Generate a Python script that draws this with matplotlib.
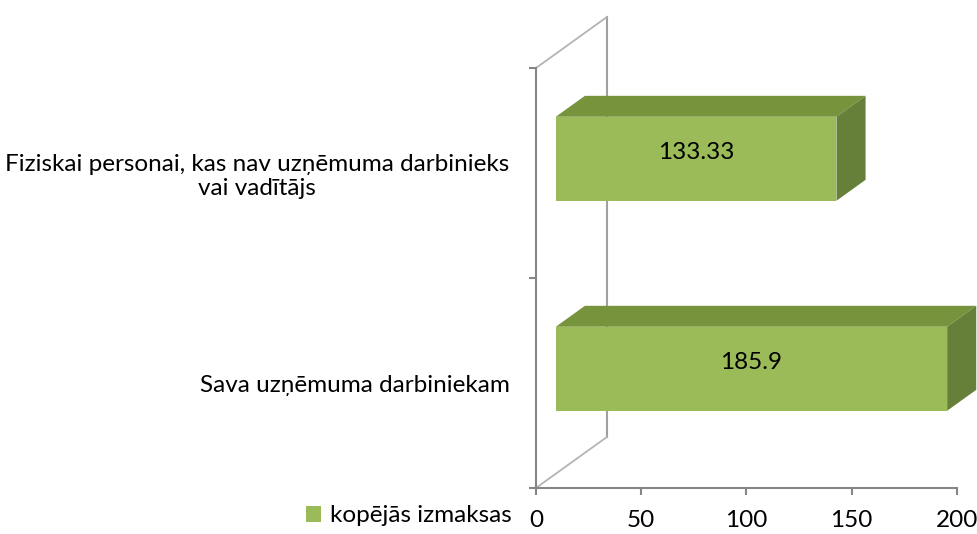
import numpy as np
import matplotlib.pyplot as plt
from matplotlib.patches import Polygon

# chart data
categories = ['Sava uzņēmuma darbiniekam',
              'Fiziskai personai, kas nav uzņēmuma darbinieks\nvai vadītājs']
values = [185.9, 133.33]
value_labels = ['185.9', '133.33']
series_name = 'kopējās izmaksas'
xticks = [0, 50, 100, 150, 200]

plt.rcParams['font.family'] = ['Lato', 'DejaVu Sans']

front_c = '#9bbb59'
top_c = '#77933c'
side_c = '#66803a'
axis_c = '#868686'
wall_c = '#b4b4b4'
fs = 17.5

# fake 3d depth (data units)
wall_dx, wall_dy = 33.7, 0.243
f_front, f_back = 0.28, 0.69
bar_h = 0.4

fig = plt.figure(figsize=(9.78, 5.34), dpi=100)
ax = fig.add_axes([0.548, 0.0861, 0.4305, 0.7865])
ax.set_xlim(0, 200)
ax.set_ylim(-0.5, 1.5)

# back wall + floor/top diagonals
ax.plot([wall_dx, wall_dx], [-0.5 + wall_dy, 1.5 + wall_dy], color='#a0a0a0', lw=1.5, clip_on=False, zorder=1)
for yb in [-0.5, 1.5]:
    ax.plot([0, wall_dx], [yb, yb + wall_dy], color=wall_c, lw=1.3, clip_on=False, zorder=1)

ypos = np.arange(len(categories))
fx, fy = f_front * wall_dx, f_front * wall_dy
ddx, ddy = (f_back - f_front) * wall_dx, (f_back - f_front) * wall_dy

bars = ax.barh(ypos + fy, values, left=fx, height=bar_h, color=front_c,
               label=series_name, zorder=3, clip_on=False)
for y, v, lab in zip(ypos, values, value_labels):
    y0, y1 = y + fy - bar_h / 2, y + fy + bar_h / 2
    x1 = fx + v
    top = Polygon([(fx, y1), (x1, y1), (x1 + ddx, y1 + ddy), (fx + ddx, y1 + ddy)],
                  closed=True, facecolor=top_c, edgecolor='none', zorder=3, clip_on=False)
    side = Polygon([(x1, y0), (x1 + ddx, y0 + ddy), (x1 + ddx, y1 + ddy), (x1, y1)],
                   closed=True, facecolor=side_c, edgecolor='none', zorder=3, clip_on=False)
    ax.add_patch(top)
    ax.add_patch(side)
    ax.text(fx + v / 2, y + fy + 0.03, lab, ha='center', va='center', fontsize=fs, color='black', zorder=4)

# axes styling
for s in ['top', 'right']:
    ax.spines[s].set_visible(False)
for s in ['left', 'bottom']:
    ax.spines[s].set_color(axis_c)
    ax.spines[s].set_linewidth(1.5)

ax.set_xticks(xticks)
ax.set_xticklabels([str(t) for t in xticks], fontsize=fs)
ax.tick_params(axis='x', colors=axis_c, labelcolor='black', length=5, width=1.5, pad=11)

ax.set_yticks(ypos)
ax.set_yticklabels(categories, fontsize=fs, multialignment='center')
ax.set_yticks([-0.5, 0.5, 1.5], minor=True)
ax.tick_params(axis='y', which='major', length=0, pad=19)
ax.tick_params(axis='y', which='minor', colors=axis_c, length=5, width=1.5)

ax.legend(handles=[bars], loc='center right', bbox_to_anchor=(512 / 978, 1 - 516 / 534),
          bbox_transform=fig.transFigure, frameon=False, fontsize=fs,
          handlelength=0.6, handleheight=0.6, handletextpad=0.4, borderpad=0, borderaxespad=0)

fig.savefig('out.png', dpi=100)
